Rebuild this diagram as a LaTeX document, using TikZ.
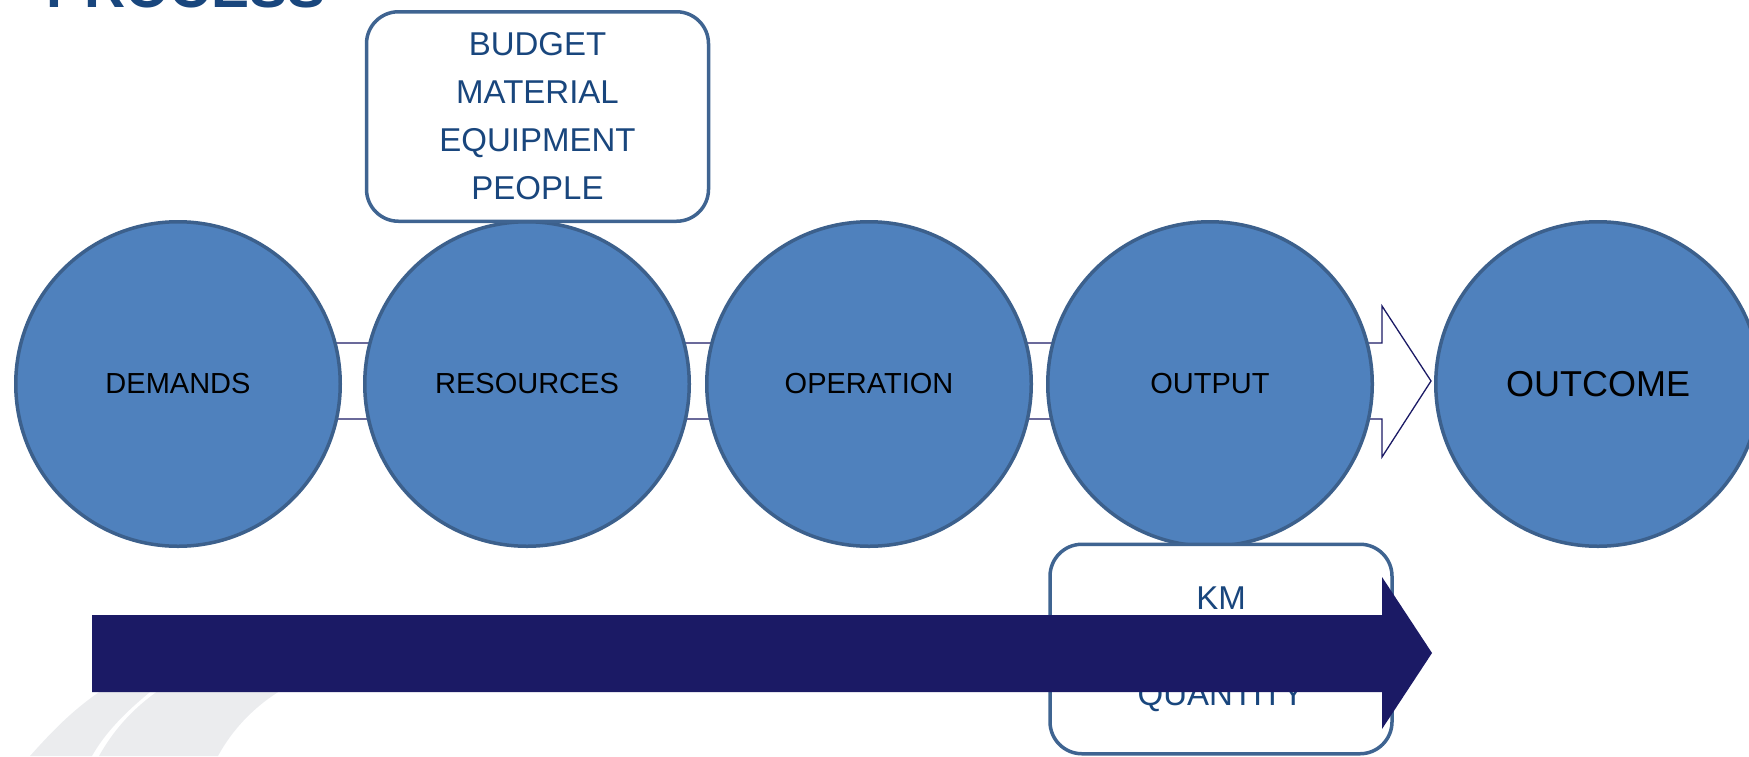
\documentclass[tikz,border=0pt]{standalone}
\usepackage{fontspec}
\setmainfont{Liberation Sans}
\usepackage{tikz}
\usetikzlibrary{positioning}
\usepackage{color}
\definecolor{phasefill}{RGB}{79,129,189}
\definecolor{phaseedge}{RGB}{60,96,140}
\definecolor{boxedge}{RGB}{63,100,145}
\definecolor{boxtext}{RGB}{25,70,125}
\definecolor{navy}{RGB}{27,26,101}
\definecolor{swoosh}{RGB}{235,236,238}

\begin{document}
\begin{tikzpicture}[x=0.5pt,y=-0.5pt,
phase/.style={shape=circle,draw=phaseedge,fill=phasefill,line width=1.75pt,
  minimum size=162.25pt,inner sep=0pt,font=\fontsize{14.5}{17}\selectfont},
listbox/.style={draw=boxedge,fill=white,line width=1.75pt,rounded corners=16pt,
  minimum width=171pt,minimum height=104.75pt,align=center,text=boxtext,
  font=\fontsize{16.5}{24}\selectfont}]
\useasboundingbox (0,0) rectangle (1749,756);
\clip (0,0) rectangle (1749,756);
% background swooshes
\fill[swoosh] (30,756) .. controls (55,728) and (75,708) .. (105,688)
  -- (155,688) .. controls (125,712) and (105,733) .. (92,756) -- cycle;
\fill[swoosh] (99,756) .. controls (112,733) and (130,710) .. (162,688)
  -- (285,688) .. controls (255,705) and (232,730) .. (218,756) -- cycle;
% thin arrow behind the phases
\draw[navy,line width=0.65pt,fill=white] (178,343) -- (1382,343) -- (1382,306)
  -- (1431,381) -- (1382,457) -- (1382,419) -- (178,419) -- cycle;
\path
(178,384) node [phase](dem) {DEMANDS}
(527,384) node [phase](res) {RESOURCES}
(869,384) node [phase](op) {OPERATION}
(1210,384) node [phase](out) {OUTPUT}
(1598,384) node [phase,font=\fontsize{18}{21}\selectfont](outc) {OUTCOME};
\node [listbox](inputs) at (537.5,116.5) {BUDGET\\MATERIAL\\EQUIPMENT\\PEOPLE};
\node [listbox](measures) at (1221,649) {KM\\\strut\\QUANTITY};
% big arrow
\fill[navy] (92,615) -- (1382,615) -- (1382,577) -- (1432,653)
  -- (1382,729) -- (1382,692) -- (92,692) -- cycle;
\node [anchor=base west,text=boxtext,font=\fontsize{28.5}{30}\selectfont\bfseries,
  inner sep=0pt](title) at (46,7) {PROCESS};
\end{tikzpicture}
\end{document}
